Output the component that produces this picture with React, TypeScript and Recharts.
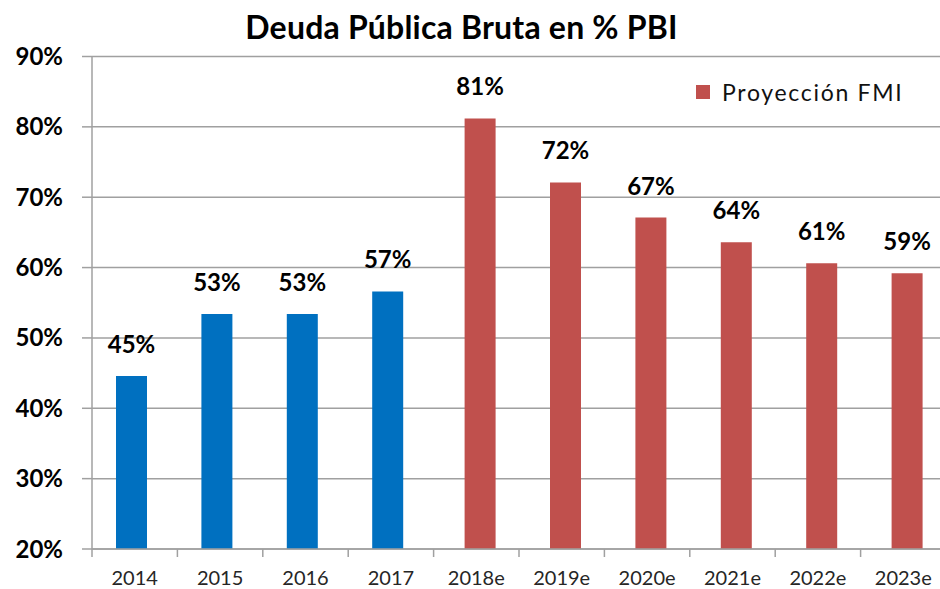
import React from 'react';
import { BarChart, Bar, XAxis, YAxis, CartesianGrid, LabelList, Legend } from 'recharts';

const categories = ['2014', '2015', '2016', '2017', '2018e', '2019e', '2020e', '2021e', '2022e', '2023e'];
const historical: (number | null)[] = [44.6, 53.4, 53.4, 56.6, null, null, null, null, null, null];
const projected: (number | null)[] = [null, null, null, null, 81.2, 72.1, 67.1, 63.6, 60.6, 59.2];
const yTicks = [20, 30, 40, 50, 60, 70, 80, 90];
const title = 'Deuda Pública Bruta en % PBI';
const projectedName = 'Proyección FMI';
const historicalName = 'Histórico';

const data = categories.map((c, i) => ({ year: c, hist: historical[i], proj: projected[i] }));

const BLUE = '#0070C0';
const RED = '#C0504D';
const AXIS = '#a0a0a0';
const FONT = 'Lato, "Open Sans", sans-serif';
const TICK_SIZE = 6;
const TICK_MARGIN = 2;

const renderLabel = (p: any) => {
  const vb = p.viewBox || {};
  const x = typeof p.x === 'number' ? p.x : vb.x;
  const y = typeof p.y === 'number' ? p.y : vb.y;
  const width = typeof p.width === 'number' ? p.width : vb.width;
  const value = p.value;
  if (value === null || value === undefined || isNaN(x) || isNaN(y)) return null;
  return (
    <text
      x={x + width / 2}
      y={y - 23}
      textAnchor="middle"
      style={{ fontFamily: FONT, fontWeight: 700, fontSize: 24 }}
      fill="#000"
    >
      {Math.round(Number(value))}%
    </text>
  );
};

const XTick = (props: any) => {
  const { x, y, payload, index, visibleTicksCount } = props;
  const off = payload && typeof payload.offset === 'number' ? payload.offset : 0;
  const isLast = index === (visibleTicksCount ?? categories.length) - 1;
  const axisY = y - TICK_SIZE - TICK_MARGIN;
  return (
    <g>
      <line x1={x - off} x2={x - off} y1={axisY} y2={axisY + 8} stroke={AXIS} strokeWidth={1.5} />
      {isLast && <line x1={x + off} x2={x + off} y1={axisY} y2={axisY + 8} stroke={AXIS} strokeWidth={1.5} />}
      <text x={x} y={axisY + 36} textAnchor="middle" style={{ fontFamily: FONT, fontSize: 20 }} fill="#262626">
        {payload.value}
      </text>
    </g>
  );
};

const renderLegend = (props: any) => {
  const payload = (props.payload || []).filter((e: any) => e.dataKey === 'proj');
  const entry = payload[0] || { value: projectedName, color: RED };
  return (
    <div style={{ display: 'flex', alignItems: 'center', fontFamily: FONT, fontSize: 23, letterSpacing: 1.7, color: '#111', whiteSpace: 'nowrap' }}>
      <span style={{ display: 'inline-block', width: 14, height: 14, background: entry.color || RED, marginRight: 12 }} />
      <span>{entry.value}</span>
    </div>
  );
};

export default function App() {
  return (
    <div style={{ position: 'fixed', left: 0, top: 0, width: 940, height: 589, overflow: 'hidden', background: '#fff' }}>
      <svg width={940} height={60} style={{ position: 'absolute', left: 0, top: 0 }}>
        <text x={461.5} y={39} textAnchor="middle" style={{ fontFamily: FONT, fontWeight: 700, fontSize: 32, letterSpacing: 0.2 }} fill="#000">
          {title}
        </text>
      </svg>
      <div style={{ position: 'absolute', left: 0, top: 0 }}>
        <BarChart
          width={960}
          height={589}
          data={data}
          margin={{ top: 56.5, right: 14, bottom: 0, left: 0 }}
          barGap={-24}
        >
          <CartesianGrid vertical={false} stroke={AXIS} strokeWidth={1.5} />
          <XAxis
            dataKey="year"
            height={40}
            tickSize={TICK_SIZE}
            tickMargin={TICK_MARGIN}
            tickLine={false}
            axisLine={{ stroke: AXIS, strokeWidth: 1.5 }}
            tick={<XTick />}
            interval={0}
          />
          <YAxis
            domain={[20, 90]}
            ticks={yTicks}
            type="number"
            allowDataOverflow
            width={92}
            tickSize={10}
            tickMargin={19}
            tickFormatter={(v: number) => `${v}%`}
            tick={{ fontFamily: FONT, fontWeight: 700, fontSize: 24, fill: '#000' }}
            tickLine={{ stroke: AXIS, strokeWidth: 1.5 }}
            axisLine={{ stroke: AXIS, strokeWidth: 1.5 }}
          />
          <Legend
            layout="horizontal"
            align="center"
            verticalAlign="middle"
            content={renderLegend}
            wrapperStyle={{ position: 'absolute', left: 696, top: 78, width: 240, height: 30 }}
          />
          <Bar dataKey="hist" name={historicalName} fill={BLUE} barSize={31} isAnimationActive={false}>
            <LabelList dataKey="hist" content={renderLabel} />
          </Bar>
          <Bar dataKey="proj" name={projectedName} fill={RED} barSize={31} isAnimationActive={false}>
            <LabelList dataKey="proj" content={renderLabel} />
          </Bar>
        </BarChart>
      </div>
    </div>
  );
}
